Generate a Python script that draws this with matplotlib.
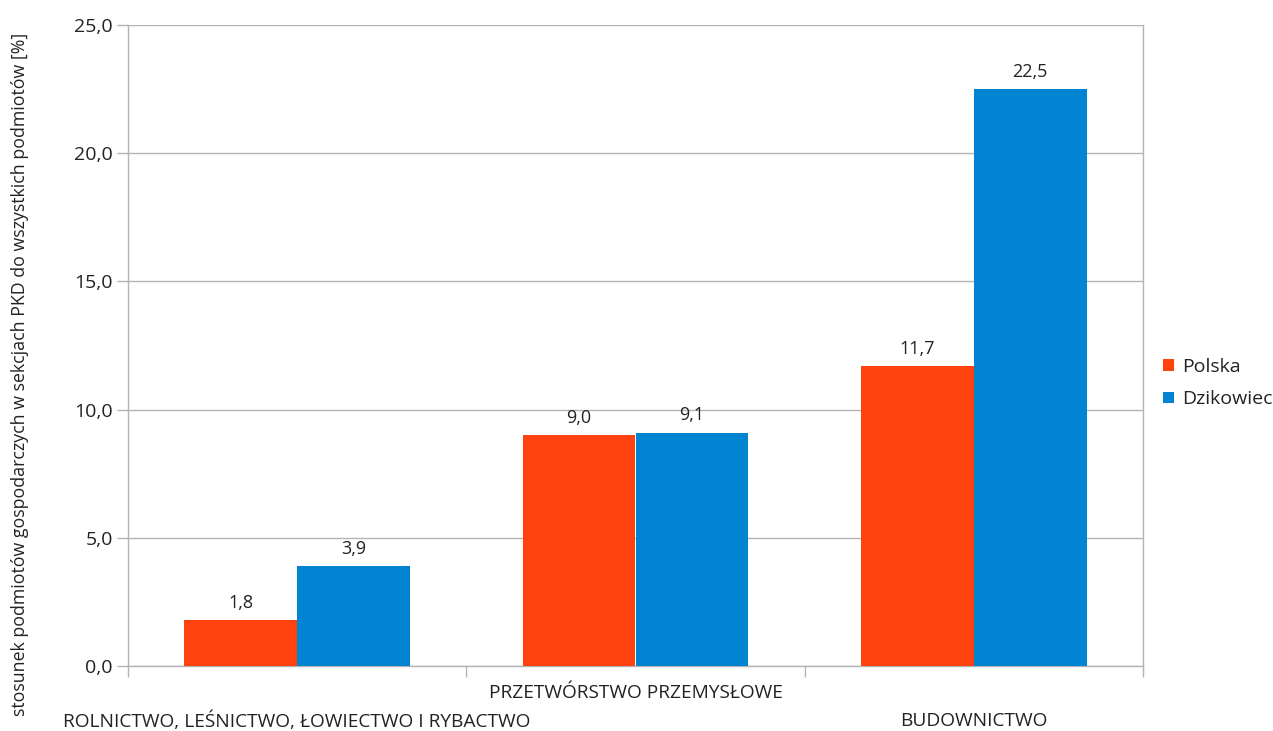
import matplotlib
matplotlib.use("Agg")
import matplotlib.pyplot as plt
from matplotlib.patches import Patch

categories = [
    "ROLNICTWO, LEŚNICTWO, ŁOWIECTWO I RYBACTWO",
    "PRZETWÓRSTWO PRZEMYSŁOWE",
    "BUDOWNICTWO",
]
series_names = ["Polska", "Dzikowiec"]
polska = [1.8, 9.0, 11.7]
dzikowiec = [3.9, 9.1, 22.5]
y_ticks = [0, 5, 10, 15, 20, 25]
y_label = "stosunek podmiotów gospodarczych w sekcjach PKD do wszystkich podmiotów [%]"

RED = "#ff420e"
BLUE = "#0084d1"
GRID = "#b3b3b3"
TEXT = "#222222"

plt.rcParams["font.family"] = ["Open Sans", "DejaVu Sans"]

fig = plt.figure(figsize=(12.73, 7.31), dpi=100)
ax = fig.add_axes([128 / 1273, 1 - 666 / 731, (1143 - 128) / 1273, (666 - 25) / 731])

w = 1 / 3
xs = list(range(len(categories)))
ax.bar([x - w / 2 for x in xs], polska, width=w, color=RED, zorder=3)
ax.bar([x + w / 2 for x in xs], dzikowiec, width=w, color=BLUE, zorder=3)

def fmt(v):
    return f"{v:.1f}".replace(".", ",")

for x, v in zip(xs, polska):
    ax.annotate(fmt(v), (x - w / 2, v), xytext=(0, 6), textcoords="offset points",
                ha="center", va="bottom", fontsize=13, color=TEXT)
for x, v in zip(xs, dzikowiec):
    ax.annotate(fmt(v), (x + w / 2, v), xytext=(0, 6), textcoords="offset points",
                ha="center", va="bottom", fontsize=13, color=TEXT)

ax.set_xlim(-0.5, len(categories) - 0.5)
ax.set_ylim(0, 25)
ax.set_yticks(y_ticks)
ax.set_yticklabels([fmt(t) for t in y_ticks], fontsize=14, color=TEXT)
ax.set_xticks([i - 0.5 for i in range(len(categories) + 1)])
ax.set_xticklabels([])
ax.tick_params(axis="both", direction="out", length=8, width=1, color=GRID)
ax.tick_params(axis="y", pad=3)
ax.grid(axis="y", color=GRID, linewidth=1, zorder=0)
for side in ["left", "right", "bottom"]:
    ax.spines[side].set_color(GRID)
    ax.spines[side].set_linewidth(1)
ax.spines["top"].set_visible(False)

# staggered category labels
for i, name in enumerate(categories):
    ypos = -27 / 641 if i % 2 == 1 else -55 / 641
    ax.text(i, ypos, name, transform=ax.get_xaxis_transform(), ha="center",
            va="center", fontsize=13.8, color=TEXT)

fig.text(20 / 1273, 1 - 374 / 731, y_label, rotation=90, ha="center", va="center",
         fontsize=12.8, color=TEXT)

handles = [Patch(facecolor=RED, label=series_names[0]),
           Patch(facecolor=BLUE, label=series_names[1])]
fig.legend(handles=handles, loc="center left", bbox_to_anchor=(1157 / 1273, 1 - 383 / 731),
           frameon=False, fontsize=14, handlelength=0.55, handleheight=0.55,
           handletextpad=0.45, labelspacing=0.75, borderaxespad=0, borderpad=0.3,
           labelcolor=TEXT)

fig.savefig("out.png", dpi=100)
